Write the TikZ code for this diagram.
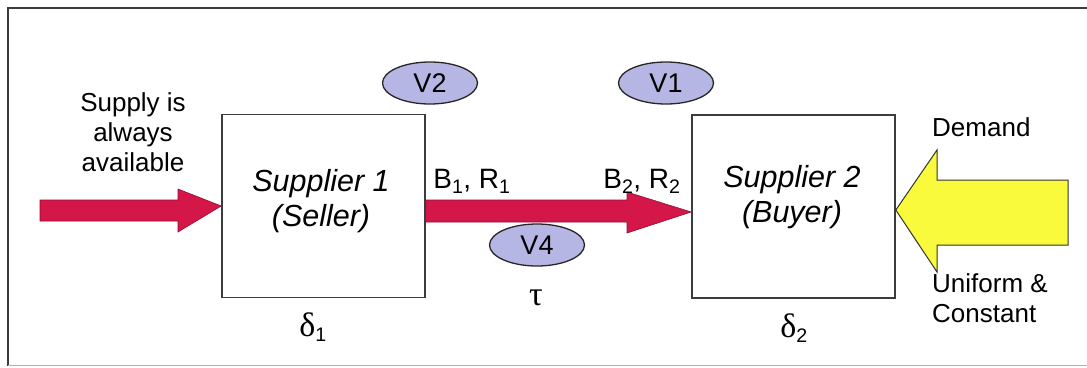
\documentclass[tikz,border=0pt]{standalone}
\usepackage{fontspec}
\setmainfont{Liberation Sans}
\newfontfamily\grk{Liberation Serif}
\usetikzlibrary{shapes.geometric}
\definecolor{arrred}{RGB}{212,22,72}
\definecolor{lav}{RGB}{182,182,228}
\definecolor{yel}{RGB}{250,250,60}
\definecolor{frame}{RGB}{60,60,60}
\begin{document}
\begin{tikzpicture}[x=1pt,y=-1pt,
  txt/.style={font=\fontsize{26}{30}\selectfont, inner sep=0pt, align=center},
  boxtxt/.style={font=\fontsize{30.5}{35}\selectfont\itshape, inner sep=0pt, align=center},
  supbox/.style={draw=frame, line width=1.6pt, minimum width=203pt, minimum height=183pt, inner sep=0pt},
  vell/.style={ellipse, draw=black!85, line width=1.3pt, fill=lav, minimum width=95pt, minimum height=42pt, inner sep=0pt, font=\fontsize{27}{28}\selectfont},
  redarrow/.style={fill=arrred, draw=arrred!70!black, line width=0.6pt},
  grtxt/.style={font=\fontsize{34}{36}\selectfont\grk, inner sep=0pt}
]
\useasboundingbox (0,0) rectangle (1087,367);
\fill[white] (0,0) rectangle (1087,367);
% frame
\draw[frame, line width=1.8pt] (1090,8) -- (8,8) -- (8,366);
\draw[black!30, line width=1pt] (8,365) -- (1090,365);

% boxes
\node[supbox] (s1) at (323.5,206) {};
\node[supbox] (s2) at (793.5,206.5) {};
\node[boxtxt] (s1t) at (321,201) {Supplier 1\\(Seller)};
\node[boxtxt] (s2t) at (792,197) {Supplier 2\\(Buyer)};

% left arrow
\coordinate (la) at (40,210);
\draw[redarrow] (la) ++(0,-10) -- (178,200) -- (178,189) -- (s1.west) -- (178,232) -- (178,221) -- (40,221) -- cycle;

% middle arrow
\draw[redarrow] (s1.east |- 0,200) -- (627,200) -- (627,192) -- (s2.west |- 0,212) -- (627,233) -- (627,222) -- (s1.east |- 0,222) -- cycle;

% yellow arrow
\draw[fill=yel, draw=black!80, line width=1pt] (s2.east |- 0,210) -- (937,150) -- (937,180) -- (1068,180) -- (1068,245) -- (937,245) -- (937,272) -- cycle;

% ellipses
\node[vell] (v2) at (430,83) {V2};
\node[vell] (v1) at (666,83) {V1};
\node[vell] (v4) at (537,245) {V4};

% texts
\node[txt] (sup) at (133,132) {Supply is\\always\\available};
\node[txt, font=\fontsize{28}{30}\selectfont] (b1) at (472,181) {B\textsubscript{1}, R\textsubscript{1}};
\node[txt, font=\fontsize{28}{30}\selectfont] (b2) at (642,181) {B\textsubscript{2}, R\textsubscript{2}};
\node[txt, anchor=west] (dem) at (932,127) {Demand};
\node[txt, anchor=west, align=left] (uni) at (932,298) {Uniform \&\\Constant};
\node[grtxt] (tau) at (536,298) {τ};
\node[grtxt] (d1) at (313,327) {δ{\fontsize{28}{30}\selectfont\textsubscript{\fontspec{Liberation Sans}1}}};
\node[grtxt] (d2) at (794,328) {δ{\fontsize{28}{30}\selectfont\textsubscript{\fontspec{Liberation Sans}2}}};
\end{tikzpicture}
\end{document}
